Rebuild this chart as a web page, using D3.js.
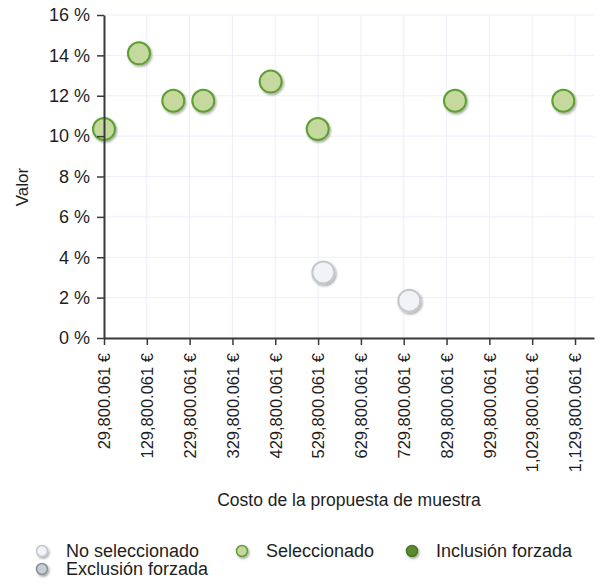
<!DOCTYPE html>
<html>
<head>
<meta charset="utf-8">
<script src="https://cdn.jsdelivr.net/npm/d3@7/dist/d3.min.js"></script>
<style>
  html, body { margin: 0; padding: 0; background: #ffffff; }
  svg { display: block; font-family: "Liberation Sans", Arial, sans-serif; }
</style>
</head>
<body>
<svg id="chart" width="605" height="588"></svg>
<script>
// Proposal cost (€) and value (%) for each sample proposal
const selectedCost   = [29800.061, 111500, 191600, 261700, 419100, 528900, 849500, 1102500];
const selectedValue  = [10.35, 14.1, 11.75, 11.75, 12.7, 10.35, 11.75, 11.75];
const notSelCost     = [542000, 742800];
const notSelValue    = [3.25, 1.85];

const xTicks = [29800.061, 129800.061, 229800.061, 329800.061, 429800.061, 529800.061,
                629800.061, 729800.061, 829800.061, 929800.061, 1029800.061, 1129800.061];
const xDomain = [29800.061, 1174180];
const yTicks = [0, 2, 4, 6, 8, 10, 12, 14, 16];

const legendItems = ["No seleccionado", "Seleccionado", "Inclusión forzada", "Exclusión forzada"];

const styles = {
  "No seleccionado":   { fill: "#f1f3f7", stroke: "#c3c7ce" },
  "Seleccionado":      { fill: "#c5d99e", stroke: "#5e9f33" },
  "Inclusión forzada": { fill: "#5d8a2e", stroke: "#4a7424" },
  "Exclusión forzada": { fill: "#c9cdd4", stroke: "#8b9098" }
};

const svg = d3.select("#chart");
const plot = { left: 104, right: 594, top: 15, bottom: 338 };

const x = d3.scaleLinear().domain(xDomain).range([plot.left, plot.right]);
const y = d3.scaleLinear().domain([0, 16]).range([plot.bottom, plot.top]);

// drop shadow for markers
const defs = svg.append("defs");
const f = defs.append("filter").attr("id", "shadow")
  .attr("x", "-50%").attr("y", "-50%").attr("width", "200%").attr("height", "200%");
f.append("feDropShadow").attr("dx", 1.2).attr("dy", 1.6).attr("stdDeviation", 1)
  .attr("flood-color", "#000").attr("flood-opacity", 0.35);

// grid
const grid = svg.append("g").attr("class", "grid");
grid.selectAll("line.h").data(yTicks).join("line")
  .attr("x1", plot.left).attr("x2", plot.right)
  .attr("y1", d => y(d)).attr("y2", d => y(d))
  .attr("stroke", "#eeeefa").attr("stroke-width", 1);
grid.selectAll("line.v").data(xTicks).join("line")
  .attr("y1", plot.top).attr("y2", plot.bottom)
  .attr("x1", d => x(d)).attr("x2", d => x(d))
  .attr("stroke", "#eeeefa").attr("stroke-width", 1);

// markers
const selected = selectedCost.map((c, i) => ({ c, v: selectedValue[i], s: "Seleccionado" }));
const notSel = notSelCost.map((c, i) => ({ c, v: notSelValue[i], s: "No seleccionado" }));
svg.append("g").selectAll("circle").data(notSel.concat(selected)).join("circle")
  .attr("cx", d => x(d.c)).attr("cy", d => y(d.v)).attr("r", 11)
  .attr("fill", d => styles[d.s].fill)
  .attr("stroke", d => styles[d.s].stroke)
  .attr("stroke-width", 2)
  .attr("filter", "url(#shadow)");

// axes
const fmt = d3.format(",.3f");
const xAxis = d3.axisBottom(x).tickValues(xTicks).tickSize(7).tickSizeOuter(0)
  .tickFormat(d => fmt(d) + " €");
const gx = svg.append("g").attr("transform", `translate(0,${plot.bottom})`).call(xAxis);
gx.select(".domain").attr("stroke", "#3a3a3a").attr("stroke-width", 2);
gx.selectAll(".tick line").attr("stroke", "#3a3a3a").attr("stroke-width", 1.5);
gx.selectAll(".tick text")
  .attr("font-size", 16.5).attr("fill", "#1e1e1e").attr("font-family", "Liberation Sans, Arial, sans-serif")
  .attr("text-anchor", "end")
  .attr("transform", "rotate(-90)")
  .attr("x", -15).attr("y", 0).attr("dy", "0.35em");

const yAxis = d3.axisLeft(y).tickValues(yTicks).tickSize(7).tickSizeOuter(0)
  .tickFormat(d => d + " %");
const gy = svg.append("g").attr("transform", `translate(${plot.left},0)`).call(yAxis);
gy.select(".domain").attr("stroke", "#3a3a3a").attr("stroke-width", 2);
gy.selectAll(".tick line").attr("stroke", "#3a3a3a").attr("stroke-width", 1.5);
gy.selectAll(".tick text")
  .attr("font-size", 18).attr("fill", "#1e1e1e").attr("font-family", "Liberation Sans, Arial, sans-serif")
  .attr("x", -14);

// axis titles
svg.append("text")
  .attr("x", (plot.left + plot.right) / 2).attr("y", 506)
  .attr("text-anchor", "middle").attr("font-size", 17.5).attr("fill", "#1e1e1e")
  .text("Costo de la propuesta de muestra");
svg.append("text")
  .attr("transform", "translate(28,187) rotate(-90)")
  .attr("text-anchor", "middle").attr("font-size", 17).attr("fill", "#1e1e1e")
  .text("Valor");

// legend
const legendPos = [
  { x: 42, y: 551 }, { x: 242, y: 551 }, { x: 412, y: 551 }, { x: 42, y: 569 }
];
const lg = svg.append("g").selectAll("g").data(legendItems).join("g")
  .attr("transform", (d, i) => `translate(${legendPos[i].x},${legendPos[i].y})`);
lg.append("circle").attr("r", 5.5)
  .attr("fill", d => styles[d].fill).attr("stroke", d => styles[d].stroke).attr("stroke-width", 1.5)
  .attr("filter", "url(#shadow)");
lg.append("text").attr("x", 24).attr("dy", "0.35em")
  .attr("font-size", 18).attr("fill", "#1e1e1e")
  .text(d => d);
</script>
</body>
</html>
